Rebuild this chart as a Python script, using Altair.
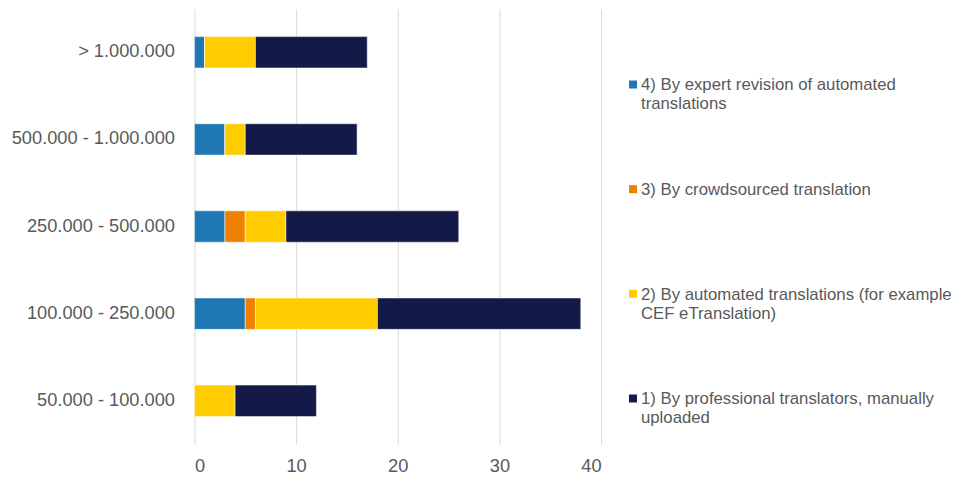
import altair as alt
import pandas as pd

categories = ["> 1.000.000", "500.000 - 1.000.000", "250.000 - 500.000",
              "100.000 - 250.000", "50.000 - 100.000"]
series_names = [
    "4) By expert revision of automated translations",
    "3) By crowdsourced translation",
    "2) By automated translations (for example CEF eTranslation)",
    "1) By professional translators, manually uploaded",
]
legend_lines = [
    "4) By expert revision of automated\ntranslations",
    "3) By crowdsourced translation",
    "2) By automated translations (for example\nCEF eTranslation)",
    "1) By professional translators, manually\nuploaded",
]
colors = ["#1F77B4", "#F08000", "#FFCC00", "#131A47"]

s4_expert = [1, 3, 3, 5, 0]
s3_crowd = [0, 0, 2, 1, 0]
s2_auto = [5, 2, 4, 12, 4]
s1_prof = [11, 11, 17, 20, 8]
series_values = [s4_expert, s3_crowd, s2_auto, s1_prof]
x_ticks = [0, 10, 20, 30, 40]

rows = []
for k, (name, vals) in enumerate(zip(series_names, series_values)):
    for cat, v in zip(categories, vals):
        rows.append({"category": cat, "series": name, "value": v, "order": k})
df = pd.DataFrame(rows)

legend_df = pd.DataFrame({"series": series_names, "label": legend_lines})

FONT = "Liberation Sans"
GRAY = "#595959"

color_scale = alt.Scale(domain=series_names, range=colors)

bars = alt.Chart(df).mark_bar(stroke="#ffffff", strokeWidth=0.5).encode(
    y=alt.Y("category:N", sort=categories,
            scale=alt.Scale(paddingInner=0.64, paddingOuter=0.32),
            axis=alt.Axis(title=None, ticks=False, domain=False, labelFontSize=18.3,
                          labelColor=GRAY, labelPadding=20, labelFont=FONT,
                          labelLimit=300)),
    x=alt.X("value:Q", stack="zero", scale=alt.Scale(domain=[0, 40]),
            axis=alt.Axis(values=x_ticks, title=None, domain=False, ticks=False,
                          grid=True, gridColor="#d9d9d9", gridWidth=1,
                          labelFontSize=18.3, labelColor=GRAY, labelPadding=13,
                          labelFont=FONT)),
    color=alt.Color("series:N", scale=color_scale, legend=None),
    order=alt.Order("order:Q"),
).properties(width=408, height=437)

leg_y = alt.Y("series:N", sort=series_names,
              scale=alt.Scale(type="point", padding=0.724), axis=None)

squares = alt.Chart(legend_df).mark_square(size=64, opacity=1).encode(
    x=alt.value(32), y=leg_y,
    color=alt.Color("series:N", scale=color_scale, legend=None),
)
texts = alt.Chart(legend_df).mark_text(
    align="left", baseline="top", dy=-7, fontSize=16.8, color=GRAY,
    font=FONT, lineBreak="\n", lineHeight=19,
).encode(x=alt.value(40), y=leg_y, text="label:N")

legend = alt.layer(squares, texts).properties(width=330, height=467)

chart = alt.hconcat(bars, legend, spacing=0).properties(
    padding={"left": 3, "top": 0, "right": 0, "bottom": 0}
).configure(font=FONT).configure_view(stroke=None)

chart.save("out.html", embed_options={"renderer": "svg", "actions": False})
